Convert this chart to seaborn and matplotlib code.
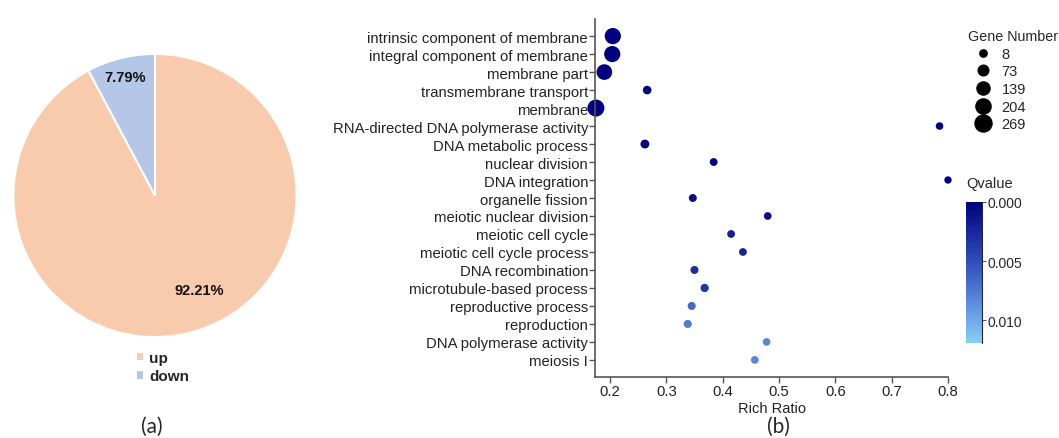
import numpy as np
import matplotlib
matplotlib.use("Agg")
import matplotlib.pyplot as plt
from matplotlib.colors import LinearSegmentedColormap, Normalize
from matplotlib.lines import Line2D
import seaborn as sns
import pandas as pd

# pie data
pie_labels = ["up", "down"]
pie_values = [92.21, 7.79]
pie_colors = ["#F8CBAD", "#B4C7E7"]

# GO enrichment data
terms = [
    "intrinsic component of membrane",
    "integral component of membrane",
    "membrane part",
    "transmembrane transport",
    "membrane",
    "RNA-directed DNA polymerase activity",
    "DNA metabolic process",
    "nuclear division",
    "DNA integration",
    "organelle fission",
    "meiotic nuclear division",
    "meiotic cell cycle",
    "meiotic cell cycle process",
    "DNA recombination",
    "microtubule-based process",
    "reproductive process",
    "reproduction",
    "DNA polymerase activity",
    "meiosis I",
]
rich_ratio = [0.205, 0.204, 0.190, 0.266, 0.175, 0.785, 0.262, 0.384, 0.800, 0.347,
              0.480, 0.415, 0.436, 0.350, 0.368, 0.345, 0.338, 0.478, 0.457]
qvalue = [0.0, 0.0, 0.0, 0.0, 0.0, 0.0, 0.0, 0.0002, 0.0, 0.0008,
          0.0008, 0.0020, 0.0022, 0.0030, 0.0035, 0.0066, 0.0076, 0.0082, 0.0082]
gene_number = [240, 238, 220, 30, 269, 12, 35, 16, 8, 18,
               14, 16, 15, 20, 24, 20, 21, 13, 15]
legend_sizes = [8, 73, 139, 204, 269]
cbar_ticks = [0.000, 0.005, 0.010]

df = pd.DataFrame({"term": terms, "ratio": rich_ratio, "q": qvalue, "n": gene_number})

sns.set_style("white")
plt.rcParams["font.family"] = ["Liberation Sans", "DejaVu Sans"]

fig = plt.figure(figsize=(10.59, 4.39), dpi=100)
W, H = 1059, 439

# ---- pie (a) ----
ax_pie = fig.add_axes([12 / W, 1 - 340 / H, 286 / W, 287 / H])
wedges, _, autotexts = ax_pie.pie(
    pie_values, colors=pie_colors, startangle=90, counterclock=False,
    autopct="%.2f%%", pctdistance=0.8,
    wedgeprops=dict(edgecolor="white", linewidth=1.5),
    textprops=dict(fontsize=10.5, fontweight="bold", color="#111111"),
)
autotexts[0].set_position((0.31, -0.67))
autotexts[1].set_position((-0.21, 0.84))
ax_pie.set_xlim(-1.01, 1.01)
ax_pie.set_ylim(-1.01, 1.01)
ax_pie.set_aspect("equal")
fig.legend(wedges, pie_labels, loc="upper left", bbox_to_anchor=(122 / W, 1 - 338 / H),
           frameon=False, handlelength=0.55, handleheight=0.55, handletextpad=0.35,
           labelspacing=0.3, prop=dict(weight="bold", size=11))
fig.text(152 / W, 1 - 427 / H, "(a)", ha="center", va="center", fontsize=15, family="Lato")

# ---- dot plot (b) ----
cmap = LinearSegmentedColormap.from_list("q", ["#000080", "#3A5CC4", "#87CEFA"])
qnorm = Normalize(0, 0.0119)
smin, smax = 28, 150

ax = fig.add_axes([595 / W, 1 - 378 / H, 353 / W, 358 / H])
sns.scatterplot(data=df, x="ratio", y="term", hue="q", size="n", palette=cmap,
                hue_norm=qnorm, sizes=(smin, smax), size_norm=(8, 269),
                linewidth=0, legend=False, clip_on=False, ax=ax)
ax.set_xlim(0.1734, 0.8)
ax.set_ylim(len(terms) - 0.05, -0.95)
ax.set_xticks([0.2, 0.3, 0.4, 0.5, 0.6, 0.7, 0.8])
ax.set_xticklabels(["0.2", "0.3", "0.4", "0.5", "0.6", "0.7", "0.8"])
ax.set_xlabel("Rich Ratio", fontsize=10.5, color="#222222", labelpad=2)
ax.set_ylabel("")
for s in ["top", "right"]:
    ax.spines[s].set_visible(False)
for s in ["left", "bottom"]:
    ax.spines[s].set_color("#555555")
    ax.spines[s].set_linewidth(1.2)
ax.tick_params(axis="both", direction="out", length=4, width=1, color="#555555",
               labelsize=10.7, labelcolor="#222222", pad=1)
ax.tick_params(axis="y", left=True)
ax.tick_params(axis="x", bottom=True)

fig.text(778 / W, 1 - 427 / H, "(b)", ha="center", va="center", fontsize=15, family="Lato")

# size legend
handles = []
for v in legend_sizes:
    s = smin + (v - 8) / (269 - 8) * (smax - smin)
    handles.append(Line2D([], [], ls="", marker="o", color="black", markersize=np.sqrt(s)))
fig.legend(handles, [str(v) for v in legend_sizes], title="Gene Number",
           loc="upper left", bbox_to_anchor=(958 / W, 1 - 20 / H), frameon=False,
           handletextpad=0.3, labelspacing=0.25, borderpad=0.2,
           prop=dict(size=10.5), title_fontsize=10.3, alignment="left")

# colorbar
cax = fig.add_axes([966 / W, 1 - 344 / H, 16 / W, 141 / H])
sm = plt.cm.ScalarMappable(norm=qnorm, cmap=cmap)
cb = fig.colorbar(sm, cax=cax, ticks=cbar_ticks)
cb.ax.invert_yaxis()
cb.ax.set_yticklabels(["0.000", "0.005", "0.010"])
cb.ax.tick_params(labelsize=10, length=3, color="#555555", pad=1)
cb.outline.set_visible(False)
cb.ax.spines["right"].set_visible(True)
fig.text(966 / W, 1 - 184 / H, "Qvalue", ha="left", va="center", fontsize=10.5)

fig.savefig("out.png", dpi=100)
